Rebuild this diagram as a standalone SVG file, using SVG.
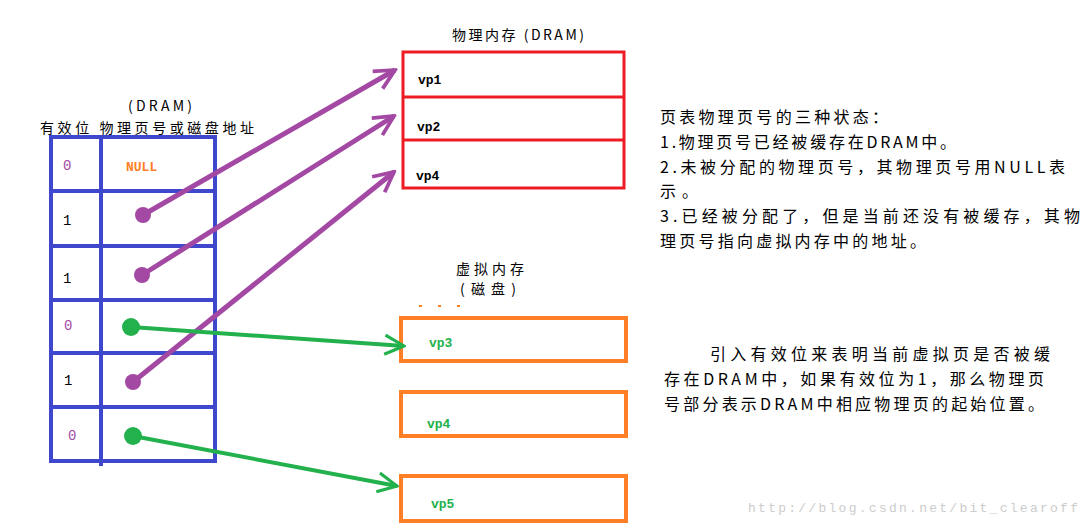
<svg xmlns="http://www.w3.org/2000/svg" width="1089" height="527" viewBox="0 0 1089 527">
<defs>
<style>
text{font-family:"Liberation Mono","Noto Sans CJK SC",monospace;font-size:14px;fill:#000}
.cn{font-family:"Noto Sans CJK SC",sans-serif;font-size:16px;lengthAdjust:spacing}
.sm{font-size:14px}
.b{font-weight:bold;font-size:13px}
.tb{fill:none;stroke:#3f48cc;stroke-width:4}
.red{fill:none;stroke:#ed1c24;stroke-width:3}
.org{fill:none;stroke:#ff7f27;stroke-width:4}
.p{stroke:#a349a4;stroke-width:5;fill:none}
.g{stroke:#22b14c;stroke-width:4;fill:none}
</style>
<marker id="ap" viewBox="0 0 10 10" refX="9" refY="5" markerWidth="5" markerHeight="5" orient="auto" markerUnits="strokeWidth"><path d="M1,1 L9,5 L1,9" fill="none" stroke="#a349a4" stroke-width="1.5"/></marker>
<marker id="ag" viewBox="0 0 10 10" refX="9" refY="5" markerWidth="6" markerHeight="6" orient="auto" markerUnits="strokeWidth"><path d="M1,1 L9,5 L1,9" fill="none" stroke="#22b14c" stroke-width="1.3"/></marker>
</defs>
<rect width="1089" height="527" fill="#fff"/>
<g id="table">
<text x="128" y="111" class="cn sm" textLength="64">(DRAM)</text>
<text x="40" y="133" class="cn sm" textLength="214">有效位 物理页号或磁盘地址</text>
<rect class="tb" x="51" y="137" width="164" height="324"/>
<line class="tb" x1="101" y1="137" x2="101" y2="466"/>
<line class="tb" x1="51" y1="191" x2="215" y2="191"/>
<line class="tb" x1="51" y1="246" x2="215" y2="246"/>
<line class="tb" x1="51" y1="300" x2="215" y2="300"/>
<line class="tb" x1="51" y1="353" x2="215" y2="353"/>
<line class="tb" x1="51" y1="407" x2="215" y2="407"/>
<text x="63" y="170" style="fill:#a349a4">0</text>
<text x="126" y="171" class="b" style="fill:#ff7f27">NULL</text>
<text x="63" y="225">1</text>
<text x="63" y="283">1</text>
<text x="64" y="330" style="fill:#a349a4">0</text>
<text x="64" y="385">1</text>
<text x="68" y="440" style="fill:#a349a4">0</text>
</g>
<g id="dram">
<text x="452" y="40" class="cn sm" textLength="132">物理内存 (DRAM)</text>
<rect class="red" x="403" y="52" width="221" height="136"/>
<line class="red" x1="403" y1="97" x2="624" y2="97"/>
<line class="red" x1="403" y1="140" x2="624" y2="140"/>
<text x="418" y="84" class="b">vp1</text>
<text x="417" y="131" class="b">vp2</text>
<text x="416" y="180" class="b">vp4</text>
</g>
<g id="disk">
<text x="456" y="274" class="cn sm" textLength="68">虚拟内存</text>
<text x="460" y="294" class="cn sm" textLength="56">(磁盘)</text>
<g fill="#ff7f27"><rect x="419" y="305" width="3" height="2"/><rect x="438" y="305" width="3" height="2"/><rect x="457" y="305" width="3" height="2"/></g>
<rect class="org" x="401" y="318" width="225" height="43"/>
<rect class="org" x="401" y="392" width="225" height="44"/>
<rect class="org" x="401" y="476" width="225" height="45"/>
<text x="429" y="347" class="b" style="fill:#22b14c">vp3</text>
<text x="427" y="428" class="b" style="fill:#22b14c">vp4</text>
<text x="431" y="508" class="b" style="fill:#22b14c">vp5</text>
</g>
<g id="connectors">
<path class="p" d="M143,215 L395,70" marker-end="url(#ap)"/>
<path class="p" d="M142,275 L394,116" marker-end="url(#ap)"/>
<path class="p" d="M133,382 L394,172" marker-end="url(#ap)"/>
<path class="g" d="M131,327 L404,346" marker-end="url(#ag)"/>
<path class="g" d="M133,436 L397,486" marker-end="url(#ag)"/>
<circle cx="143" cy="215" r="8" fill="#a349a4"/>
<circle cx="142" cy="275" r="8" fill="#a349a4"/>
<circle cx="133" cy="382" r="8" fill="#a349a4"/>
<circle cx="131" cy="327" r="9" fill="#22b14c"/>
<circle cx="133" cy="436" r="9" fill="#22b14c"/>
</g>
<g id="notes">
<text x="660" y="123" class="cn" textLength="228">页表物理页号的三种状态：</text>
<text x="660" y="148" class="cn" textLength="296">1.物理页号已经被缓存在DRAM中。</text>
<text x="660" y="173" class="cn" textLength="405">2.未被分配的物理页号，其物理页号用NULL表</text>
<text x="660" y="197" class="cn" textLength="38">示。</text>
<text x="660" y="222" class="cn" textLength="420">3.已经被分配了，但是当前还没有被缓存，其物</text>
<text x="660" y="247" class="cn" textLength="266">理页号指向虚拟内存中的地址。</text>
<text x="710" y="360" class="cn" textLength="340">引入有效位来表明当前虚拟页是否被缓</text>
<text x="664" y="385" class="cn" textLength="380">存在DRAM中，如果有效位为1，那么物理页</text>
<text x="664" y="410" class="cn" textLength="380">号部分表示DRAM中相应物理页的起始位置。</text>
</g>
<text x="748" y="512" textLength="330" style="fill:#ccc;font-size:13px">http://blog.csdn.net/bit_clearoff</text>
</svg>
